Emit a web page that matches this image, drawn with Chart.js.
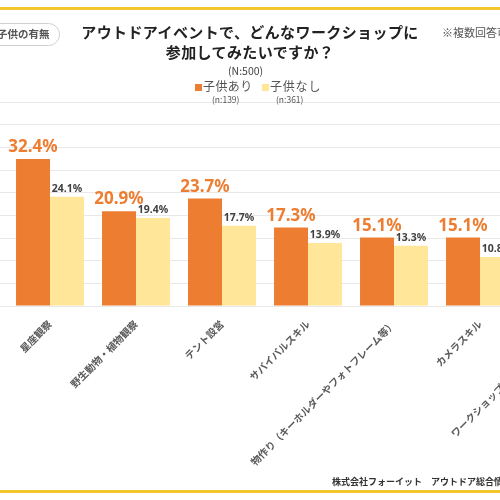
<!DOCTYPE html>
<html><head><meta charset="utf-8">
<script src="https://cdn.jsdelivr.net/npm/chart.js@4"></script>
<style>
html,body{margin:0;padding:0;width:500px;height:500px;overflow:hidden;background:#fff;font-family:"Noto Sans CJK JP","Noto Sans",sans-serif;}
#wrap{position:absolute;left:0;top:0;width:620px;height:500px;}
.abs{position:absolute;white-space:nowrap;z-index:2;}
.hline{position:absolute;left:0;width:500px;height:3px;background:#F2C72E;z-index:3;}
</style></head><body>
<div id="wrap"><canvas id="c"></canvas></div>
<div class="hline" style="top:7px"></div>
<div class="hline" style="top:490px"></div>
<div class="abs" style="left:-14px;top:23px;width:72px;height:21px;border:1px solid #cfcfcf;border-radius:12px;"></div>
<div class="abs" style="left:-3px;top:25px;font-size:10.5px;font-weight:700;color:#555;line-height:18px;">子供の有無</div>
<div class="abs" style="left:0;width:500px;top:22px;text-align:center;font-size:15px;font-weight:700;color:#222;line-height:20px;letter-spacing:0.4px;">アウトドアイベントで、どんなワークショップに<br>参加してみたいですか？</div>
<div class="abs" style="left:442px;top:24px;font-size:11px;color:#555;">※複数回答可</div>
<div class="abs" style="left:228px;top:63px;font-size:10.5px;color:#444;">(N:500)</div>
<div class="abs" style="left:195px;top:84px;width:7px;height:7px;background:#ED7D31;"></div>
<div class="abs" style="left:203px;top:78px;font-size:12px;color:#555;line-height:16px;letter-spacing:0.4px;">子供あり</div>
<div class="abs" style="left:212px;top:93px;font-size:8.5px;color:#555;">(n:139)</div>
<div class="abs" style="left:262px;top:84px;width:7px;height:7px;background:#FFE699;"></div>
<div class="abs" style="left:270px;top:78px;font-size:12px;color:#555;line-height:16px;letter-spacing:0.8px;">子供なし</div>
<div class="abs" style="left:276px;top:93px;font-size:8.5px;color:#555;">(n:361)</div>
<div class="abs" style="left:332px;top:475px;font-size:9px;font-weight:700;color:#333;">株式会社フォーイット　アウトドア総合情報サイト</div>
<script>
const categories = ["星座観察","野生動物・植物観察","テント設営","サバイバルスキル","物作り（キーホルダーやフォトフレーム等）","カメラスキル","ワークショップには参加したくない"];
const withKids = [32.4,20.9,23.7,17.3,15.1,15.1,8.6];
const withoutKids = [24.1,19.4,17.7,13.9,13.3,10.8,12.5];
const seriesNames = ["子供あり","子供なし"];

const valueLabels = {
  id:'valueLabels',
  afterDatasetsDraw(chart){
    const ctx = chart.ctx;
    chart.data.datasets.forEach((ds,i)=>{
      const meta = chart.getDatasetMeta(i);
      meta.data.forEach((bar,j)=>{
        ctx.save();
        ctx.textAlign='center';
        ctx.textBaseline='alphabetic';
        if(i===0){
          ctx.font='bold 17px "Noto Sans","Open Sans",sans-serif';
          ctx.fillStyle='#ED7D31';
          ctx.fillText(ds.data[j].toFixed(1)+'%', bar.x, bar.y-7);
        } else {
          ctx.font='bold 10.5px "Noto Sans","Open Sans",sans-serif';
          ctx.fillStyle='#404040';
          ctx.fillText(ds.data[j].toFixed(1)+'%', bar.x, bar.y-5);
        }
        ctx.restore();
      });
    });
  }
};

new Chart(document.getElementById('c'),{
  type:'bar',
  data:{labels:categories,datasets:[
    {label:seriesNames[0],data:withKids,backgroundColor:'#ED7D31',categoryPercentage:0.79,barPercentage:1.0},
    {label:seriesNames[1],data:withoutKids,backgroundColor:'#FFE699',categoryPercentage:0.79,barPercentage:1.0}
  ]},
  options:{
    responsive:true,maintainAspectRatio:false,animation:false,
    layout:{padding:{top:102,left:0,right:11,bottom:0}},
    plugins:{legend:{display:false},tooltip:{enabled:false},title:{display:false}},
    scales:{
      x:{
        grid:{display:false},
        border:{display:false},
        ticks:{autoSkip:false,maxRotation:45,minRotation:45,padding:4,color:'#595959',
          font:{family:'"Noto Sans CJK JP",sans-serif',size:10,weight:'bold'}},
        afterFit(s){s.height=194;}
      },
      y:{
        min:0,max:45,
        ticks:{stepSize:5,display:false},
        border:{display:false},
        grid:{color:'#e8e8e8',lineWidth:1,drawTicks:true,tickLength:7},
        afterFit(s){s.width=7;}
      }
    }
  },
  plugins:[valueLabels]
});
</script>
</body></html>
